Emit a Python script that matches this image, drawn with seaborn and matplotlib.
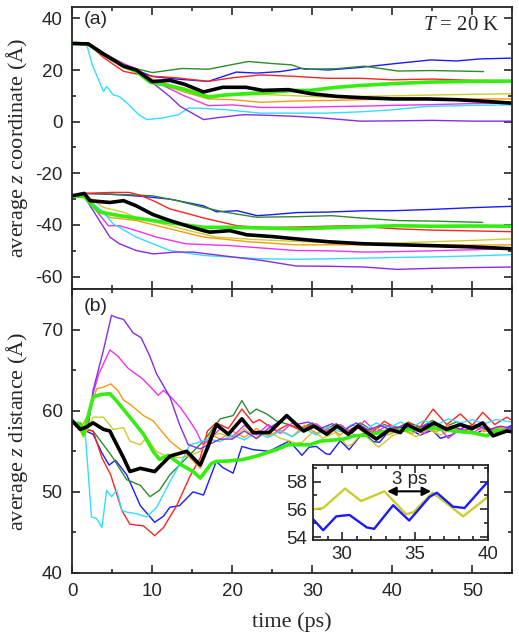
import numpy as np
import pandas as pd
import matplotlib
matplotlib.use("Agg")
import matplotlib.pyplot as plt
import seaborn as sns
from matplotlib.ticker import MultipleLocator

sns.set_style("ticks")
plt.rcParams["font.family"] = ["Liberation Sans", "DejaVu Sans"]
plt.rcParams["mathtext.fontset"] = "custom"
plt.rcParams["mathtext.rm"] = "Liberation Serif"
plt.rcParams["mathtext.it"] = "Liberation Serif:italic"
plt.rcParams["axes.unicode_minus"] = False

# colours of the ten trajectories
colors = {"blue": "#1a1aff", "dkgreen": "#2e8b2e", "red": "#ff2222", "yellow": "#cccc2a",
          "orange": "#f59a10", "magenta": "#ee33ee", "cyan": "#33ddff", "purple": "#8a2be2",
          "green": "#33ee10", "black": "#000000"}
order = ["blue", "dkgreen", "red", "yellow", "orange", "magenta", "cyan", "purple", "green", "black"]

# ---- panel (a), upper molecule layer ----
up_blue_t = [0, 2, 4, 6.5, 8, 10, 13, 17, 20.5, 23, 26, 28.5, 32, 36, 40.7, 44.8, 48, 51, 54.8]
up_blue_v = [30.3, 30, 26, 21.5, 20, 17.5, 16.5, 15.6, 19.2, 18.8, 19.4, 20.6, 20, 21, 22.6, 23.9, 23.5, 24.3, 24.6]
up_dkgreen_t = [0, 2, 4, 6.5, 8, 10, 13.7, 17, 22, 25, 27.4, 29, 33, 36.5, 40.7, 45, 51.4]
up_dkgreen_v = [30.3, 30, 26, 22, 20.5, 19, 20.6, 20.3, 23.3, 22.5, 22, 20.3, 20.5, 21.5, 19.6, 19.8, 19.4]
up_red_t = [0, 2, 4, 6.4, 8, 10, 13, 17, 20, 23.6, 28, 31.8, 36, 40, 45, 50, 54.8]
up_red_v = [30.3, 30, 24.6, 19.5, 18.5, 17.6, 17, 15.6, 17, 18.1, 17.5, 16.8, 16.8, 16.2, 16.5, 16, 15.9]
up_yellow_t = [0, 2, 4, 6.4, 8, 10, 12, 14, 17, 20, 24, 28, 31.8, 36, 40, 45, 50, 54.8]
up_yellow_v = [30.3, 30, 26, 21.5, 19.5, 16.5, 14.5, 13, 10.1, 10.3, 10.5, 10, 9.5, 9.8, 10, 10.3, 10.6, 10.8]
up_orange_t = [0, 2, 4, 6.4, 8, 10, 12, 14, 17, 20, 23.6, 28, 32, 36, 40, 45, 50, 54.8]
up_orange_v = [30.3, 30, 25.5, 21, 19, 16, 13.5, 11.5, 8.8, 8.5, 7.5, 8, 8.2, 8.5, 8.8, 8.8, 8.8, 8.8]
up_magenta_t = [0, 2, 4, 6.4, 8, 10, 12, 14, 17, 20, 23.6, 28, 32, 36, 40, 45, 50, 54.8]
up_magenta_v = [30.3, 30, 26.5, 22.5, 20.5, 16, 13, 10, 6.2, 6.5, 5.5, 5.5, 5.8, 6, 6.3, 6.6, 7, 7.2]
up_cyan_t = [0, 1.8, 2.5, 3.9, 4.3, 5.1, 5.9, 7.1, 8.3, 9.3, 11.2, 13.3, 14.5, 16, 19.3, 23.5, 27, 31.8, 36, 40.1, 44.3, 50, 54.8]
up_cyan_v = [30.3, 29.8, 22, 11.7, 13.6, 10.4, 9.7, 6.5, 2.7, 0.8, 1.4, 2.7, 5.3, 5.2, 4.6, 3.3, 3.3, 3.3, 3.8, 4.6, 5.9, 6.3, 6.5]
up_purple_t = [0, 2, 4, 6.4, 8, 10.1, 12.2, 13.5, 16.4, 18, 21.4, 24, 27.6, 31, 36, 40, 45, 50, 54.8]
up_purple_v = [30.3, 30, 26, 22, 20, 14.9, 9.7, 5.9, 0.8, 1.5, 2.7, 2.5, 2.1, 1.5, 0.2, 0.3, 0.5, 0.2, 0.2]
up_green_t = [0, 2, 4, 6.4, 8, 9.7, 12, 14, 17, 19, 21.4, 24, 27.6, 29.7, 33, 35.9, 40, 44.3, 50, 54.8]
up_green_v = [30.3, 30, 26, 21.5, 19.5, 15.3, 14, 12.5, 9.5, 10.3, 10.8, 11.2, 12.1, 12.1, 13.3, 14, 14.7, 15.3, 15.6, 15.7]
up_black_t = [0, 2, 4, 6.4, 8, 10, 12.2, 14, 16.4, 18.8, 21.7, 23.8, 27, 29.9, 33, 36, 40.1, 44.3, 48, 51, 54.8]
up_black_v = [30.3, 30.1, 26, 21.5, 20, 15.5, 16, 14.5, 11.5, 13.3, 13.3, 12.1, 12.4, 10.8, 9.8, 9.3, 8.8, 8.8, 8.5, 8, 7.2]

# ---- panel (a), lower molecule layer ----
lo_blue_t = [0, 1.5, 4, 6.8, 9, 12.2, 16.4, 18, 20.6, 23.1, 25, 28.1, 32, 36.5, 40, 44.8, 50, 54.8]
lo_blue_v = [-28.7, -27.8, -28, -28.5, -29, -30, -32.6, -34.9, -34.5, -36.4, -36, -35.2, -35, -34.5, -34.5, -34, -33.3, -32.8]
lo_dkgreen_t = [0, 1.5, 4, 7, 10, 13, 16.4, 19, 23, 28, 32.4, 36, 40.7, 45, 51.3]
lo_dkgreen_v = [-28.7, -27.8, -28, -28.3, -28.7, -30.5, -33.2, -35, -37, -36.8, -36.4, -37.3, -38.3, -38.5, -39]
lo_red_t = [0, 1.5, 3, 5.1, 7.1, 8.5, 10.1, 12.2, 14.3, 16.4, 20.6, 23.9, 28, 34.4, 40.6, 45, 50, 54.8]
lo_red_v = [-28.7, -27.8, -27.6, -27.4, -27.4, -28.5, -30.6, -33.8, -35.5, -37.3, -40.3, -41, -40.8, -40.3, -41.5, -42, -42.3, -42.6]
lo_yellow_t = [0, 1.5, 3.9, 6.4, 8, 12.2, 15, 18, 22, 28, 34, 40, 45, 50, 54.8]
lo_yellow_v = [-28.7, -28, -33.2, -35.1, -37.1, -40.3, -42.5, -44.7, -45.5, -46.4, -47, -47, -46.5, -46, -45.4]
lo_orange_t = [0, 1.5, 3.5, 4.7, 8, 12.2, 16.4, 18, 22, 28, 34, 40, 45, 50, 54.8]
lo_orange_v = [-28.7, -28.5, -35, -37.1, -38.3, -41.5, -44.7, -45.2, -46.5, -47.7, -47.7, -47.7, -47.7, -47.8, -47.7]
lo_magenta_t = [0, 1.5, 3.5, 4.5, 5.9, 8, 10.5, 14.2, 19.7, 24, 28, 32, 36.5, 41, 45, 50, 54.8]
lo_magenta_v = [-28.7, -29, -36.4, -40.3, -40.3, -42.2, -44.7, -47.3, -48, -49, -49.9, -50, -50.5, -50.3, -50, -49.6, -49.2]
lo_cyan_t = [0, 1.5, 3.9, 5.1, 8, 12.2, 16.4, 19, 23.6, 28, 32, 36, 40, 44.8, 50, 54.8]
lo_cyan_v = [-28.7, -29, -35.1, -39.6, -44.7, -49.9, -51.8, -52.3, -53.1, -53.3, -53.1, -52.9, -52.6, -52.4, -52, -51.5]
lo_purple_t = [0, 1.5, 3, 4.7, 5.9, 8, 10.1, 13, 15.1, 19, 23.6, 28, 32, 36.5, 40.6, 45, 50, 54.8]
lo_purple_v = [-28.7, -29, -36.4, -44.7, -47.3, -49.9, -51.2, -50.5, -50.5, -52, -53.7, -55.9, -56, -56.3, -57.2, -56.8, -56.5, -56.3]
lo_green_t = [0, 1.5, 2.6, 3.4, 5.9, 10.1, 16.4, 19.7, 24, 28.1, 33, 40.6, 45, 50, 54.8]
lo_green_v = [-28.7, -29, -32.6, -35, -36.4, -38.3, -40.9, -40.9, -41.2, -41.5, -41, -40.3, -40.5, -40.4, -40.5]
lo_black_t = [0, 1.5, 2.2, 4.7, 6.4, 8, 10.1, 12.2, 14.5, 16.4, 17.2, 19.7, 21.8, 25, 28, 32, 36.5, 40, 44.8, 50, 54.8]
lo_black_v = [-28.7, -27.8, -30.6, -31.3, -30.6, -32.6, -36, -38.3, -40.5, -42.2, -42.8, -42.2, -43.8, -44.5, -45.4, -46.5, -47.3, -47.6, -48, -48.5, -49.2]

# ---- panel (b), z distance ----
b_blue_t = [0, 1, 2.6, 3.7, 4.6, 5.4, 6.8, 8.5, 10.3, 11.4, 12.2, 13.4, 15.1, 16.4, 18, 18.8, 20.1, 21.2, 22.6, 24.6,
            27.1, 28, 28.7, 29.6, 30.5, 31.7, 32.2, 33.5, 34.6, 36, 36.5, 37.6, 38.4, 40, 41.8, 43.5, 45, 46, 47.4,
            49, 50.5, 51.8, 53.3, 55]
b_blue_v = [58.5, 57.8, 57.1, 54.8, 53.3, 53.9, 52.1, 48.3, 46.25, 47, 48.1, 48.3, 50, 49.6, 53.75, 53, 52.3, 55.6, 55.2, 55,
            56.25, 55.3, 54.5, 55.5, 55.6, 54.7, 54.6, 56.3, 55.2, 56.9, 57.2, 56.2, 56.1, 58, 57.9, 57, 57.6, 56.6, 57,
            58, 57.2, 57.9, 57.5, 58.2]
b_dkgreen_t = [0, 1, 2.6, 4.8, 6.8, 8.5, 9.7, 10.9, 12.2, 14.3, 16.4, 18.5, 20.1, 21.2, 22.2, 23, 24.3, 25.5, 27, 28.5,
               30, 31.5, 33, 34.5, 36, 37.5, 39, 40.5, 42, 43.5, 45, 46.5, 48, 49.5, 51.5]
b_dkgreen_v = [58.5, 57.8, 57.5, 54.6, 51.5, 50.8, 49.4, 50.2, 52.1, 54.2, 56.25, 59, 59.4, 61.25, 59.6, 60.2, 59.6, 58.75, 58.3, 57.8,
               58.5, 57.6, 58.4, 57.5, 58.5, 57.6, 58.3, 57.7, 58.6, 57.9, 58.8, 58, 58.6, 58.1, 58.4]
b_red_t = [0, 1, 2.6, 3.7, 4.8, 6.2, 7.2, 8.9, 10.3, 11.4, 13.05, 14.7, 16, 16.9, 18, 19.5, 21.2, 22.6, 23.4, 25.5,
           27, 28.5, 30, 31.5, 33, 34.5, 36, 37.5, 39, 40.5, 42, 43.5, 45.1, 46.8, 48.5, 50, 51.3, 52.8, 54.3, 55]
b_red_v = [58.5, 57.8, 57.5, 54.2, 52.1, 47.7, 46, 45.8, 44.6, 45.6, 48.3, 51.9, 54.2, 57.5, 58.5, 57.8, 60.2, 58.5, 58.9, 57.5,
           58.3, 57.6, 58.3, 57.3, 58.2, 57.5, 58.2, 57.3, 58.7, 57.8, 58.5, 58, 60.2, 58.3, 59.6, 58.2, 59.8, 58.3, 59.2, 58.8]
b_yellow_t = [0, 1, 1.4, 2.6, 3.9, 5.1, 6.4, 7.2, 8.5, 9.3, 10.5, 11.7, 13.5, 15, 16, 17.2, 18.5, 20, 21.5, 23,
              24.5, 26, 28, 28.7, 30.2, 31.3, 32.9, 34.4, 34.9, 36.2, 37.1, 38.3, 40, 41.5, 43, 44.5, 46, 47.5, 49,
              50.5, 52, 53.5, 55]
b_yellow_v = [58.5, 57.5, 56.7, 59.2, 59.2, 57.7, 57.9, 56.25, 55.8, 56.7, 55, 54.4, 54.2, 54.6, 55, 56.9, 57.2, 56.6, 57.8, 56.5,
              57.5, 56.6, 56, 56.1, 57.5, 56.6, 57.3, 55.65, 55.8, 57.2, 56.5, 55.5, 56.9, 57.5, 56.8, 57.7, 57, 57.8, 57.2,
              58, 57.4, 57.9, 57.6]
b_orange_t = [0, 1, 2, 3.05, 3.9, 4.8, 5.7, 6.4, 7.2, 8.9, 10.1, 12.2, 14.3, 16, 17.2, 18.5, 20, 21.5, 23, 24.5,
              26, 27.5, 29, 30.5, 32, 33.5, 35, 36.5, 38, 39.5, 41, 42.5, 44, 45.5, 47, 48.5, 50, 51.5, 53, 55]
b_orange_v = [58.5, 57.8, 59.5, 62.7, 62.9, 63.3, 62.5, 61.3, 60.8, 59.4, 58.75, 56.25, 54.6, 52.9, 57.1, 56.5, 57.5, 56.7, 57.8, 56.9,
              57.6, 56.8, 58.2, 57.2, 58, 57, 58.3, 57.3, 57.9, 57, 57.7, 57.2, 58, 57.4, 58.2, 57.5, 58.1, 57.4, 58, 57.6]
b_magenta_t = [0, 1, 2, 2.6, 3.3, 4.7, 5.7, 7, 8.7, 9.5, 10.75, 11.4, 12.5, 13.5, 14.5, 15.5, 16.3, 17.2, 18.5, 20,
               21.5, 23, 24.5, 26, 27.5, 29, 30.5, 32, 33.5, 35, 36.5, 38, 39.5, 41, 42.5, 44, 45.5, 47, 48.5, 50,
               51.5, 53, 55]
b_magenta_v = [58.5, 57.8, 58.5, 62.1, 64.5, 67.5, 66.7, 65.2, 64, 63.2, 61.9, 62.5, 61.5, 60.4, 59, 57.5, 55.8, 56.5, 57.8, 56.8,
               58.2, 57, 58.3, 57.2, 58.5, 57.4, 58.4, 57.3, 58.3, 57.2, 58.75, 57.4, 58.2, 57.3, 58, 57.2, 58.3, 56.6, 57.8, 57.2,
               58.2, 57.3, 58]
b_cyan_t = [0, 1, 1.6, 2.4, 3.05, 3.7, 4.3, 4.9, 5.55, 6.2, 6.8, 8.05, 9.3, 10.55, 12.2, 13.9, 14.7, 15.5, 17, 18.5,
            20, 21.5, 23, 24.5, 26, 27.5, 29, 30.5, 32, 33.5, 35, 36.5, 38, 39.5, 41, 42.5, 44, 45.5, 47, 48.5,
            50, 51.5, 53, 55]
b_cyan_v = [58.5, 57.8, 57.5, 46.9, 46.7, 45.6, 50.2, 49.4, 50.2, 47.7, 47.5, 47.3, 46.9, 48.1, 51.25, 54.2, 55.8, 56, 56.5, 56.2,
            57, 56.4, 57.3, 56.7, 57.5, 56.8, 57.8, 57, 58, 57.4, 58.3, 57.6, 58.5, 57.8, 58.6, 58, 58.8, 58.2, 59, 58.5,
            58.9, 58.4, 58.9, 58.6]
b_purple_t = [0, 1, 2, 2.6, 3.9, 4.9, 5.5, 6.4, 7.6, 8.6, 9.7, 10.5, 12.2, 13.4, 14.5, 16, 17, 18.5, 20, 21.5,
              23, 24.5, 26.8, 28, 29.5, 31, 32.5, 34, 35.5, 37, 38.5, 40, 41.5, 43, 44.5, 46, 47.5, 49, 50.5, 52,
              53.5, 55]
b_purple_v = [58.5, 57.8, 58.2, 62.5, 67.5, 71.75, 71.5, 71.25, 69.6, 69, 66.7, 64.6, 61.7, 58.3, 55.8, 55.3, 55.8, 56.5, 56.5, 57.5,
              56.6, 57.8, 59.2, 58.3, 58.6, 57.8, 58.4, 57.6, 58.5, 57.6, 58.2, 57.5, 58.3, 57.7, 58.4, 57.6, 58.1, 57.5, 58.2, 57.6,
              58.1, 57.8]
b_green_t = [0, 1, 1.4, 2.6, 3.6, 4.7, 5.5, 7.2, 8.9, 10.1, 10.9, 12, 13.5, 15.1, 16, 17.4, 18, 19.5, 21.4, 23,
             25.5, 27, 29.7, 31, 33.9, 35.2, 37, 39.3, 41, 43.5, 45, 47.6, 50, 51.8, 53, 54.8]
b_green_v = [58.5, 58.4, 57.1, 61.7, 62, 62.1, 61.25, 59.2, 57.1, 55, 54, 54.5, 53.4, 52.5, 51.7, 53.5, 53.75, 53.8, 54, 54.4,
             55.2, 55.8, 55.8, 56.25, 56.5, 56.9, 57, 57.5, 57.6, 57.7, 57.9, 57.5, 57.3, 56.9, 57.6, 57.5]
b_black_t = [0, 1, 1.8, 2.6, 3.9, 4.7, 5.1, 6.4, 7.2, 8.5, 10.3, 12.2, 14.3, 16, 16.9, 18, 19.5, 21.2, 22.6, 24.6,
             26.8, 28.9, 30.2, 31.8, 33.1, 34.5, 35.7, 38, 39.7, 41, 41.8, 43.5, 45.2, 46.8, 48.5, 50, 51.3, 52.6,
             54.3, 55]
b_black_v = [58.75, 57.7, 58, 58.5, 57.7, 57.5, 56.7, 54.2, 52.5, 52.9, 52.5, 54.4, 55, 53.3, 55.4, 58.3, 57.1, 59, 57.3, 57.3,
             59.4, 57.5, 58.1, 57.1, 58.1, 57.1, 58.1, 56.5, 57.7, 57.3, 58.3, 57.5, 58.5, 57.7, 58.3, 57.8, 58.5, 56.9,
             57.5, 57.4]

g = globals()
thick = {"green", "black"}


def draw(ax, prefix, name, lw_thin=1.0, lw_thick=2.6):
    t = g[f"{prefix}_{name}_t"]
    v = g[f"{prefix}_{name}_v"]
    sns.lineplot(x=t, y=v, ax=ax, color=colors[name], estimator=None, sort=False,
                 lw=lw_thick if name in thick else lw_thin, legend=False)


def style(ax, fs=13.5):
    for s in ax.spines.values():
        s.set_linewidth(1.3)
    ax.tick_params(which="both", direction="in", top=True, right=True, width=1.2, labelsize=fs, pad=7)
    ax.tick_params(which="major", length=6)
    ax.tick_params(which="minor", length=3)


serif = ["Liberation Serif", "DejaVu Serif"]
fig = plt.figure(figsize=(5.19, 6.36), dpi=100)
ax_a = fig.add_axes([0.1393, 0.5456, 0.8478, 0.4434])
ax_b = fig.add_axes([0.1393, 0.0991, 0.8478, 0.4465])

for name in order:
    draw(ax_a, "up", name)
    draw(ax_a, "lo", name)
    draw(ax_b, "b", name)

ax_a.set_xlim(0, 55)
ax_a.set_ylim(-64.8, 44.4)
ax_a.xaxis.set_major_locator(MultipleLocator(10))
ax_a.xaxis.set_minor_locator(MultipleLocator(5))
ax_a.yaxis.set_major_locator(MultipleLocator(20))
ax_a.yaxis.set_minor_locator(MultipleLocator(10))
ax_a.tick_params(labelbottom=False)
style(ax_a)
ax_a.set_ylabel("average $z$ coordinate (Å)", family=serif, fontsize=16)
ax_a.yaxis.set_label_coords(-0.097, 0.5)
ax_a.text(0.054, 0.955, "(a)", transform=ax_a.transAxes, ha="center", va="center", fontsize=14)
ax_a.text(0.972, 0.935, "$T$ = 20 K", transform=ax_a.transAxes, ha="right", va="center",
          family=serif, fontsize=15)

ax_b.set_xlim(0, 55)
ax_b.set_ylim(40, 75)
ax_b.xaxis.set_major_locator(MultipleLocator(10))
ax_b.xaxis.set_minor_locator(MultipleLocator(5))
ax_b.yaxis.set_major_locator(MultipleLocator(10))
ax_b.yaxis.set_minor_locator(MultipleLocator(5))
style(ax_b)
ax_b.set_ylabel("average $z$ distance (Å)", family=serif, fontsize=16)
ax_b.yaxis.set_label_coords(-0.097, 0.5)
ax_b.set_xlabel("time (ps)", family=serif, fontsize=16, labelpad=9)
ax_b.text(0.054, 0.937, "(b)", transform=ax_b.transAxes, ha="center", va="center", fontsize=14)

# inset: blue and yellow trajectories, 28-40 ps
ax_in = fig.add_axes([0.603, 0.151, 0.337, 0.118])
for name in ["yellow", "blue"]:
    draw(ax_in, "b", name, lw_thin=1.7)
ax_in.set_xlim(28, 40)
ax_in.set_ylim(53.8, 59.2)
ax_in.xaxis.set_major_locator(MultipleLocator(5))
ax_in.xaxis.set_minor_locator(MultipleLocator(1))
ax_in.yaxis.set_major_locator(MultipleLocator(2))
ax_in.yaxis.set_minor_locator(MultipleLocator(1))
style(ax_in)
ax_in.tick_params(pad=4)
ax_in.set_xlabel("")
ax_in.annotate("", xy=(32.9, 57.3), xytext=(36.3, 57.3),
               arrowprops=dict(arrowstyle="<|-|>", color="black", lw=1.5, mutation_scale=13))
ax_in.text(34.6, 58.15, "3 ps", ha="center", va="center", fontsize=13.5)

fig.savefig("out.png", dpi=100)
